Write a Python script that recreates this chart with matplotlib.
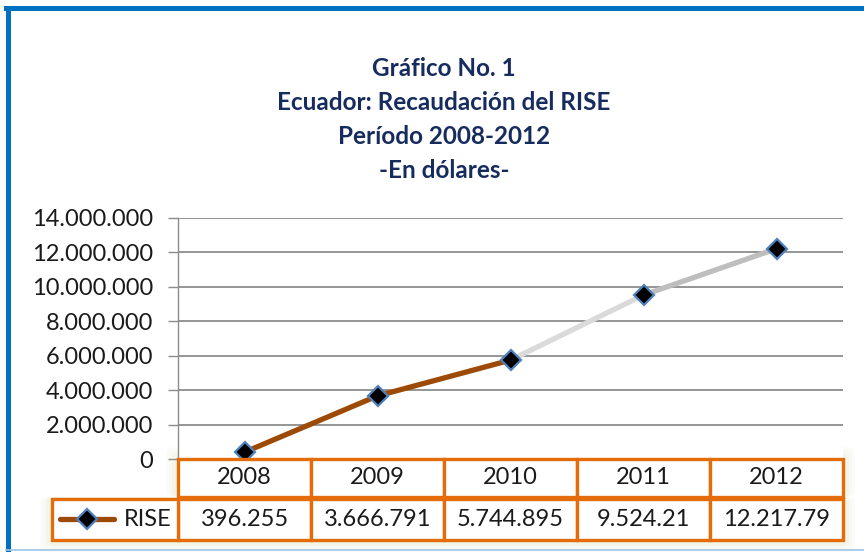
import matplotlib.pyplot as plt
import matplotlib.patches as mpatches
from matplotlib.lines import Line2D
from matplotlib.ticker import FuncFormatter

# datos del grafico
years = ['2008', '2009', '2010', '2011', '2012']
rise = [396255, 3666791, 5744895, 9524210, 12217790]
rise_labels = ['396.255', '3.666.791', '5.744.895', '9.524.21', '12.217.79']
seg_colors = ['#9C4A06', '#9C4A06', '#DADADA', '#BEBEBE']
title_lines = ['Gráfico No. 1', 'Ecuador: Recaudación del RISE',
               'Período 2008-2012', '-En dólares-']

W, H = 864, 552
FONT = 'Lato'
ORANGE = '#E46C0A'
NAVY = '#172C5E'
GRID = '#8C8C8C'
TXT = '#1a1a1a'


def fx(px):
    return px / W


def fy(py):
    return 1 - py / H


fig = plt.figure(figsize=(W / 100, H / 100), dpi=100)
fig.patch.set_facecolor('white')

# marco azul
fig.add_artist(Line2D([fx(7.5), fx(7.5)], [fy(7.5), fy(552)], color='#0070C0', lw=3.6))
fig.add_artist(Line2D([fx(6), fx(864)], [fy(7.5), fy(7.5)], color='#0070C0', lw=3.6))
fig.add_artist(Line2D([fx(6), fx(864)], [fy(550), fy(550)], color='#9DC3E6', lw=1.2))

# titulo
for i, t in enumerate(title_lines):
    fig.text(fx(444), fy(68 + i * 34.3), t, ha='center', va='center',
             fontsize=17.5, fontweight='bold', color=NAVY, family=FONT)

ax = fig.add_axes([fx(178), fy(459), fx(843) - fx(178), fy(218) - fy(459)])
ax.set_xlim(-0.5, len(years) - 0.5)
ax.set_ylim(0, 14000000)
ax.set_yticks(range(0, 14000001, 2000000))
ax.yaxis.set_major_formatter(FuncFormatter(lambda v, p: f'{int(v):,}'.replace(',', '.')))
ax.tick_params(axis='y', length=7, width=1, color=GRID, pad=11, labelsize=17)
for lbl in ax.get_yticklabels():
    lbl.set_family(FONT)
    lbl.set_color(TXT)
ax.set_xticks([])
ax.yaxis.grid(True, color=GRID, lw=1.3)
ax.set_axisbelow(True)
for s in ['top', 'right', 'bottom']:
    ax.spines[s].set_visible(False)
ax.spines['left'].set_color(GRID)
ax.spines['left'].set_linewidth(1)

# linea por segmentos
x = list(range(len(years)))
for i in range(len(years) - 1):
    ax.plot(x[i:i + 2], rise[i:i + 2], color=seg_colors[i], lw=3.8,
            solid_capstyle='butt', zorder=3)
ax.plot(x, rise, ls='none', marker='D', ms=10, mfc='black', mec='#4F81BD',
        mew=1.6, zorder=4, clip_on=False)

# tabla de datos bajo el eje
trans = ax.get_xaxis_transform()
ah = 459 - 218
r1_top, r1_bot = 0.0, -(497 - 459) / ah
r2_top, r2_bot = -(499 - 459) / ah, -(540 - 459) / ah

# halo verde suave siguiendo la forma de la tabla
for k, a in zip([12, 9, 6, 3], [0.08, 0.10, 0.12, 0.14]):
    fig.add_artist(mpatches.FancyBboxPatch(
        (fx(178 - k), fy(497)), fx(843 + k) - fx(178 - k), fy(459 - k) - fy(497),
        boxstyle='round,pad=0,rounding_size=0.01', fc='#D4E3B8', ec='none',
        alpha=a, zorder=0))
    fig.add_artist(mpatches.FancyBboxPatch(
        (fx(52 - k), fy(540 + k)), fx(843 + k) - fx(52 - k), fy(497) - fy(540 + k),
        boxstyle='round,pad=0,rounding_size=0.01', fc='#D4E3B8', ec='none',
        alpha=a, zorder=0))

for i, (yr, lab) in enumerate(zip(years, rise_labels)):
    ax.add_patch(mpatches.Rectangle((i - 0.5, r1_bot), 1, r1_top - r1_bot, transform=trans,
                                    fc='white', ec=ORANGE, lw=2.4, clip_on=False, zorder=5))
    ax.add_patch(mpatches.Rectangle((i - 0.5, r2_bot), 1, r2_top - r2_bot, transform=trans,
                                    fc='white', ec=ORANGE, lw=2.4, clip_on=False, zorder=5))
    ax.text(i, (r1_top + r1_bot) / 2, yr, transform=trans, ha='center', va='center',
            fontsize=17, family=FONT, color=TXT, zorder=6)
    ax.text(i, (r2_top + r2_bot) / 2, lab, transform=trans, ha='center', va='center',
            fontsize=17, family=FONT, color=TXT, zorder=6)

# celda de leyenda
fig.add_artist(mpatches.Rectangle((fx(52), fy(540)), fx(178) - fx(52), fy(499) - fy(540),
                                  fc='white', ec=ORANGE, lw=2.4, zorder=5))
fig.add_artist(Line2D([fx(60), fx(114)], [fy(519), fy(519)], color=seg_colors[0], lw=3.8,
                      solid_capstyle='round', zorder=6))
fig.add_artist(Line2D([fx(87)], [fy(519)], ls='none', marker='D', ms=10, mfc='black',
                      mec='#4F81BD', mew=1.6, zorder=7))
fig.text(fx(124), fy(519), 'RISE', ha='left', va='center', fontsize=17, family=FONT,
         color=TXT, zorder=7)

fig.savefig('out.png', dpi=100)
